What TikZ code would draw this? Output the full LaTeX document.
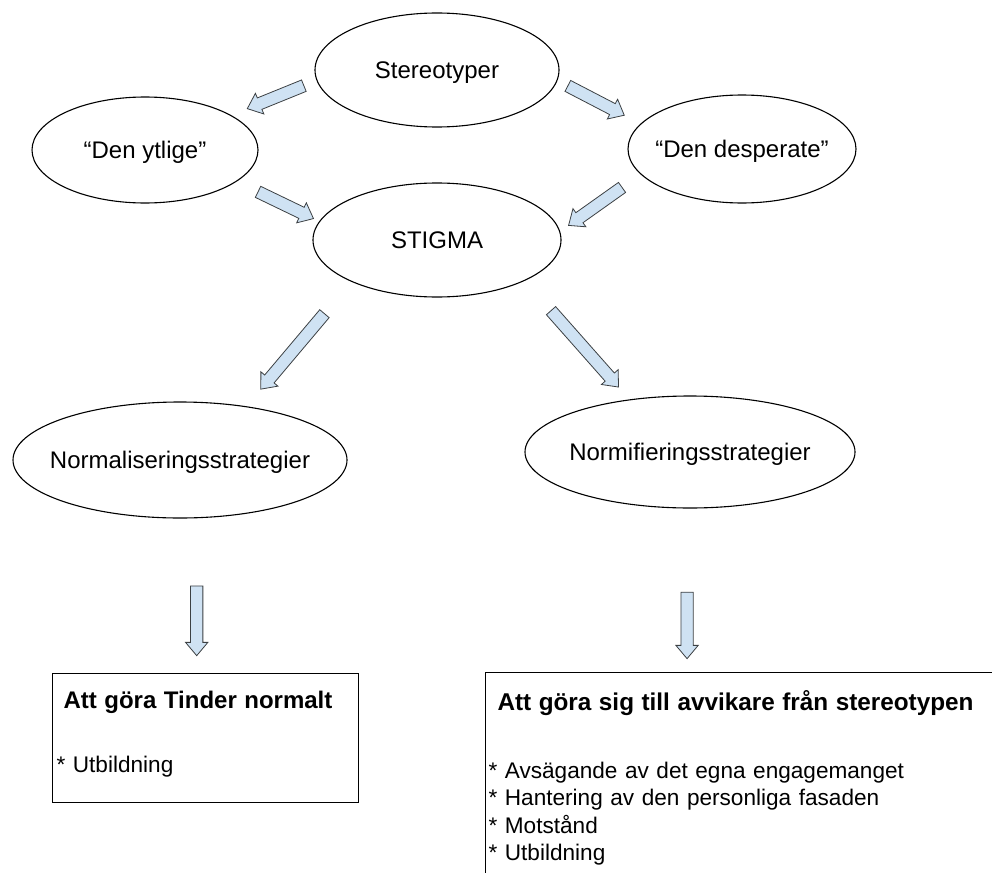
\documentclass[tikz,border=0pt]{standalone}
\usepackage{fontspec}
\setmainfont{Liberation Sans}
\usetikzlibrary{shapes.geometric,shapes.arrows,calc}
\usepackage{xcolor}
\definecolor{arrowfill}{HTML}{CFE2F3}
\definecolor{arrowline}{HTML}{3C4043}

% block arrow: from, to, gap at tail, gap at tip
\newcommand{\blockarrow}[4]{%
  \path let \p1=($(#1)!#3pt!(#2)$), \p2=($(#2)!#4pt!(#1)$),
    \n1={atan2(\y2-\y1,\x2-\x1)}, \n2={veclen(\x2-\x1,\y2-\y1)} in
    node[barrow, minimum height=\n2, rotate=\n1] at ($(\p1)!0.5!(\p2)$) {};}
% text that does not widen its oval
\newcommand{\ovaltext}[1]{\makebox[0pt]{#1}}

\begin{document}
\begin{tikzpicture} [x=1pt,y=-1pt,line width=1.1pt,
  font=\fontsize{24}{28}\selectfont,
  oval/.style={ellipse, draw, inner sep=0pt, text height=21.7pt, text depth=5.1pt},
  barrow/.style={single arrow, draw=arrowline, fill=arrowfill, line width=0.8pt,
    inner xsep=0pt, inner ysep=5.75pt, single arrow head extend=5pt,
    single arrow tip angle=80},
  textbox/.style={draw, anchor=north west, inner xsep=4pt, inner ysep=0pt, align=left,
    font=\fontsize{22.6}{27.5}\selectfont}]

  \useasboundingbox (0,0) rectangle (992,872);
  \clip (0,0) rectangle (992,872);

  \node[oval] (stereo) [minimum width=244, minimum height=114] at (437,70) {\ovaltext{Stereotyper}};
  \node[oval] (ytlig) [minimum width=226, minimum height=106] at (145,150) {\ovaltext{“Den ytlige”}};
  \node[oval] (desp) [minimum width=228, minimum height=108] at (742,149) {\ovaltext{“Den desperate”}};
  \node[oval] (stigma) [minimum width=248, minimum height=114] at (437,240) {\ovaltext{STIGMA}};
  \node[oval] (normal) [minimum width=334, minimum height=116] at (180,460) {\ovaltext{Normaliseringsstrategier}};
  \node[oval] (normif) [minimum width=330, minimum height=112] at (690,452) {\ovaltext{Normifieringsstrategier}};

  \node[textbox] (box1) [text width=298] at (52,673)
    {\rule{0pt}{35pt}\hspace*{7pt}\textbf{\fontsize{24}{27.5}\selectfont Att göra Tinder normalt}\\[36pt]
     * Utbildning\rule[-30pt]{0pt}{30pt}};
  \node[textbox] (box2) [text width=560, inner xsep=3pt] at (485,672)
    {\rule{0pt}{38pt}\hspace*{9pt}\textbf{\fontsize{24.3}{27.5}\selectfont Att göra sig till avvikare från stereotypen}\\[40pt]
     * Avsägande av det egna engagemanget\\
     {*} Hantering av den personliga fasaden\\
     {*} Motstånd\\
     {*} Utbildning\rule[-40pt]{0pt}{40pt}};

  \blockarrow{stereo.185}{ytlig.22}{10}{21}
  \blockarrow{stereo.355}{desp.166}{8}{22}
  \blockarrow{ytlig.341}{stigma.171}{20}{10}
  \blockarrow{desp.194}{stigma.4}{19}{14}
  \blockarrow{stigma.206}{normal.39}{38}{26}
  \blockarrow{stigma.335}{normif.139}{36}{20}
  \blockarrow{normal.-74}{normal.-74 |- box1.north}{64}{21}
  \blockarrow{normif.-93}{normif.-93 |- box2.north}{80}{17}
\end{tikzpicture}
\end{document}
